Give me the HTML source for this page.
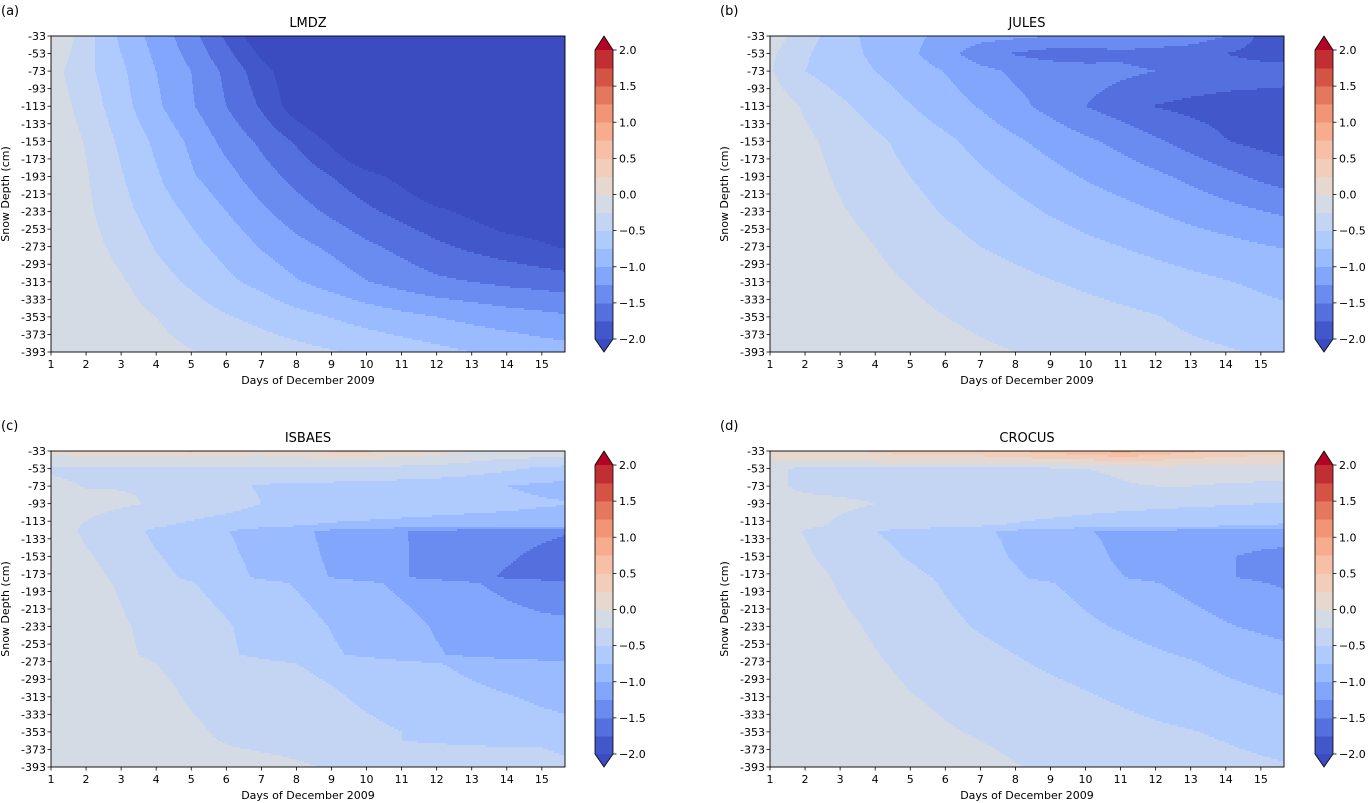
<!DOCTYPE html>
<html><head><meta charset="utf-8">
<style>
html,body{margin:0;padding:0;background:#fff;}
svg{display:block;font-family:"DejaVu Sans","Liberation Sans",sans-serif;}
</style></head>
<body>
<svg id="fig" width="1370" height="803" viewBox="0 0 1370 803" xmlns="http://www.w3.org/2000/svg"></svg>
<script>
// ---- data ----
const depthsA = [-33,-53,-73,-113,-153,-193,-233,-273,-313,-353,-393];
const depthsB = [-33,-53,-73,-113,-153,-193,-233,-273,-313,-353,-393];
const depthsC = [-33,-43,-53,-73,-93,-118,-124,-153,-177,-183,-233,-265,-275,-313,-353,-363,-371,-393];
const depthsD = [-33,-43,-53,-73,-93,-118,-124,-153,-177,-183,-233,-273,-313,-353,-393];
const days = [1,2,3,4,5,6,7,8,9,10,11,12,13,14,15,16];
const yTickLabels = [-33,-53,-73,-93,-113,-133,-153,-173,-193,-213,-233,-253,-273,-293,-313,-333,-353,-373,-393];
const xTickLabels = [1,2,3,4,5,6,7,8,9,10,11,12,13,14,15];
const cbTicks = [2.0,1.5,1.0,0.5,0.0,-0.5,-1.0,-1.5,-2.0];
const levels = [-2,-1.75,-1.5,-1.25,-1,-0.75,-0.5,-0.25,0,0.25,0.5,0.75,1,1.25,1.5,1.75,2];
const binColors = ["#4257c9","#5470de","#6a8bef","#82a6fb","#9abbff","#afcafc","#c4d5f3","#d5dbe5","#e6d7cf","#f1cdba","#f6bfa6","#f7ac8e","#f19576","#e4785e","#d35445","#c12f32"];
const underColor = "#3b4cc0", overColor = "#b40426";

const lmdz = [
[0.05,-0.4,-0.8,-1.1,-1.4,-1.8,-2.2,-2.4,-2.4,-2.4,-2.4,-2.4,-2.4,-2.4,-2.4,-2.4],
[-0.05,-0.42,-0.75,-1.05,-1.33,-1.68,-2.05,-2.3,-2.4,-2.4,-2.4,-2.4,-2.4,-2.4,-2.4,-2.4],
[-0.15,-0.43,-0.7,-1.0,-1.25,-1.56,-1.9,-2.2,-2.4,-2.4,-2.4,-2.4,-2.4,-2.4,-2.4,-2.4],
[-0.1,-0.35,-0.65,-0.95,-1.22,-1.5,-1.78,-2.15,-2.4,-2.4,-2.4,-2.4,-2.4,-2.4,-2.4,-2.4],
[-0.05,-0.27,-0.55,-0.8,-1.05,-1.33,-1.55,-1.78,-2.05,-2.4,-2.4,-2.4,-2.4,-2.4,-2.4,-2.4],
[-0.03,-0.23,-0.48,-0.72,-0.97,-1.16,-1.39,-1.58,-1.75,-1.92,-2.07,-2.3,-2.3,-2.3,-2.3,-2.3],
[0,-0.2,-0.42,-0.62,-0.8,-1.0,-1.2,-1.39,-1.55,-1.7,-1.83,-1.95,-2.06,-2.2,-2.2,-2.2],
[0,-0.15,-0.33,-0.52,-0.68,-0.83,-1.02,-1.17,-1.3,-1.45,-1.57,-1.7,-1.8,-1.88,-1.97,-2.05],
[0,-0.1,-0.22,-0.4,-0.54,-0.7,-0.82,-0.98,-1.1,-1.24,-1.35,-1.45,-1.5,-1.56,-1.6,-1.65],
[0,-0.05,-0.15,-0.25,-0.37,-0.48,-0.57,-0.67,-0.76,-0.85,-0.93,-1.0,-1.07,-1.13,-1.18,-1.23],
[0,-0.03,-0.1,-0.17,-0.24,-0.3,-0.36,-0.42,-0.48,-0.55,-0.61,-0.68,-0.75,-0.81,-0.87,-0.92]];

const jules = [
[-0.1,-0.4,-0.63,-0.85,-0.95,-1.05,-1.15,-1.2,-1.25,-1.25,-1.3,-1.3,-1.35,-1.5,-1.8,-1.9],
[-0.2,-0.47,-0.65,-0.8,-0.95,-1.15,-1.4,-1.52,-1.6,-1.62,-1.55,-1.6,-1.65,-1.75,-1.85,-1.9],
[-0.23,-0.5,-0.63,-0.75,-0.88,-1.01,-1.17,-1.3,-1.36,-1.4,-1.45,-1.5,-1.55,-1.6,-1.62,-1.64],
[-0.1,-0.28,-0.45,-0.6,-0.74,-0.88,-1.02,-1.18,-1.33,-1.5,-1.63,-1.76,-1.82,-1.86,-1.88,-1.9],
[-0.05,-0.2,-0.33,-0.45,-0.58,-0.7,-0.83,-0.96,-1.08,-1.2,-1.32,-1.46,-1.6,-1.74,-1.82,-1.88],
[-0.03,-0.17,-0.28,-0.39,-0.5,-0.6,-0.71,-0.81,-0.92,-1.02,-1.11,-1.2,-1.31,-1.43,-1.55,-1.65],
[-0.02,-0.13,-0.23,-0.32,-0.42,-0.52,-0.6,-0.68,-0.77,-0.85,-0.92,-1.0,-1.08,-1.16,-1.24,-1.31],
[-0.01,-0.08,-0.17,-0.25,-0.33,-0.42,-0.5,-0.56,-0.62,-0.69,-0.75,-0.81,-0.87,-0.92,-0.98,-1.03],
[0,-0.06,-0.13,-0.2,-0.26,-0.32,-0.38,-0.44,-0.49,-0.54,-0.59,-0.64,-0.69,-0.74,-0.79,-0.84],
[0,-0.04,-0.09,-0.15,-0.2,-0.25,-0.29,-0.33,-0.37,-0.41,-0.45,-0.49,-0.55,-0.6,-0.66,-0.71],
[0,-0.02,-0.06,-0.1,-0.14,-0.18,-0.22,-0.25,-0.29,-0.33,-0.37,-0.41,-0.45,-0.48,-0.52,-0.56]];

const isbaes = [
[0.05,0.1,0.15,0.2,0.3,0.15,0.1,0.15,0.3,0.3,0.2,0.1,0.0,-0.05,-0.1,-0.15],
[-0.1,-0.05,-0.1,-0.05,-0.1,-0.1,-0.08,-0.05,-0.05,-0.05,-0.08,-0.12,-0.2,-0.28,-0.3,-0.32],
[-0.28,-0.3,-0.3,-0.3,-0.3,-0.3,-0.3,-0.3,-0.3,-0.3,-0.32,-0.35,-0.4,-0.45,-0.55,-0.6],
[-0.2,-0.26,-0.26,-0.27,-0.3,-0.45,-0.52,-0.55,-0.56,-0.58,-0.6,-0.62,-0.65,-0.75,-0.8,-0.82],
[-0.15,-0.18,-0.22,-0.27,-0.33,-0.4,-0.5,-0.55,-0.58,-0.6,-0.62,-0.64,-0.66,-0.68,-0.72,-0.75],
[-0.15,-0.27,-0.37,-0.47,-0.55,-0.62,-0.68,-0.74,-0.78,-0.8,-0.82,-0.84,-0.86,-0.88,-0.9,-0.9],
[-0.1,-0.3,-0.4,-0.55,-0.65,-0.74,-0.85,-0.95,-1.05,-1.15,-1.24,-1.3,-1.35,-1.4,-1.45,-1.5],
[-0.05,-0.22,-0.35,-0.48,-0.6,-0.7,-0.82,-0.93,-1.03,-1.13,-1.23,-1.32,-1.4,-1.47,-1.55,-1.6],
[-0.03,-0.17,-0.3,-0.43,-0.54,-0.66,-0.79,-0.9,-1.01,-1.12,-1.23,-1.33,-1.44,-1.53,-1.6,-1.65],
[-0.04,-0.17,-0.28,-0.39,-0.49,-0.58,-0.68,-0.77,-0.86,-0.96,-1.05,-1.14,-1.23,-1.32,-1.4,-1.45],
[-0.03,-0.12,-0.22,-0.32,-0.4,-0.48,-0.58,-0.66,-0.76,-0.84,-0.92,-1.02,-1.08,-1.14,-1.18,-1.2],
[-0.02,-0.1,-0.2,-0.3,-0.38,-0.47,-0.55,-0.63,-0.72,-0.8,-0.89,-0.98,-1.06,-1.13,-1.2,-1.27],
[-0.02,-0.08,-0.16,-0.25,-0.31,-0.37,-0.44,-0.5,-0.56,-0.62,-0.68,-0.74,-0.8,-0.85,-0.88,-0.9],
[0,-0.05,-0.12,-0.2,-0.27,-0.31,-0.36,-0.41,-0.47,-0.54,-0.6,-0.65,-0.7,-0.74,-0.78,-0.8],
[0,-0.04,-0.1,-0.16,-0.22,-0.28,-0.32,-0.36,-0.4,-0.45,-0.5,-0.55,-0.59,-0.63,-0.68,-0.72],
[0,-0.04,-0.09,-0.15,-0.21,-0.26,-0.3,-0.35,-0.4,-0.45,-0.5,-0.55,-0.6,-0.65,-0.7,-0.73],
[0,-0.03,-0.08,-0.13,-0.18,-0.24,-0.27,-0.3,-0.33,-0.36,-0.39,-0.42,-0.45,-0.48,-0.5,-0.52],
[0,-0.02,-0.05,-0.08,-0.11,-0.14,-0.18,-0.22,-0.27,-0.31,-0.35,-0.38,-0.41,-0.44,-0.47,-0.49]];

const crocus = [
[0.05,0.1,0.15,0.3,0.35,0.38,0.4,0.5,0.6,0.7,0.85,0.7,0.55,0.45,0.4,0.35],
[0.02,0.05,0.08,0.1,0.12,0.12,0.12,0.15,0.2,0.25,0.3,0.28,0.2,0.15,0.1,0.1],
[-0.2,-0.3,-0.3,-0.3,-0.3,-0.3,-0.3,-0.3,-0.28,-0.25,-0.2,-0.1,-0.1,-0.1,-0.1,-0.1],
[-0.2,-0.3,-0.3,-0.3,-0.3,-0.32,-0.35,-0.38,-0.4,-0.35,-0.28,-0.25,-0.25,-0.28,-0.3,-0.3],
[-0.15,-0.18,-0.22,-0.25,-0.3,-0.33,-0.35,-0.37,-0.38,-0.4,-0.42,-0.44,-0.46,-0.48,-0.5,-0.5],
[-0.12,-0.2,-0.28,-0.33,-0.38,-0.43,-0.48,-0.52,-0.56,-0.6,-0.64,-0.67,-0.7,-0.73,-0.76,-0.78],
[-0.15,-0.26,-0.38,-0.5,-0.57,-0.64,-0.72,-0.79,-0.86,-0.99,-1.04,-1.05,-1.07,-1.08,-1.1,-1.1],
[-0.08,-0.22,-0.33,-0.43,-0.52,-0.6,-0.68,-0.77,-0.86,-0.94,-1.03,-1.1,-1.17,-1.23,-1.3,-1.35],
[-0.04,-0.17,-0.28,-0.37,-0.45,-0.53,-0.62,-0.72,-0.82,-0.91,-0.99,-1.08,-1.16,-1.23,-1.3,-1.33],
[-0.04,-0.16,-0.27,-0.36,-0.44,-0.52,-0.6,-0.67,-0.74,-0.82,-0.91,-0.99,-1.07,-1.15,-1.24,-1.3],
[-0.02,-0.1,-0.2,-0.28,-0.36,-0.45,-0.52,-0.58,-0.64,-0.71,-0.77,-0.84,-0.91,-0.98,-1.04,-1.1],
[0,-0.07,-0.15,-0.23,-0.3,-0.36,-0.42,-0.48,-0.54,-0.59,-0.64,-0.69,-0.74,-0.8,-0.85,-0.9],
[0,-0.05,-0.11,-0.18,-0.24,-0.29,-0.34,-0.39,-0.43,-0.48,-0.53,-0.58,-0.63,-0.68,-0.72,-0.76],
[0,-0.03,-0.08,-0.13,-0.18,-0.23,-0.27,-0.31,-0.35,-0.39,-0.42,-0.46,-0.49,-0.53,-0.58,-0.62],
[0,-0.02,-0.05,-0.08,-0.12,-0.15,-0.19,-0.24,-0.28,-0.31,-0.34,-0.37,-0.4,-0.43,-0.46,-0.49]];

// ---- rendering ----
const NS = "http://www.w3.org/2000/svg";
const svg = document.getElementById("fig");
function mk(tag, attrs, parent){ const e=document.createElementNS(NS,tag); for(const k in attrs) e.setAttribute(k,attrs[k]); (parent||svg).appendChild(e); return e; }

const panels = [
 {key:"lmdz", data:lmdz, dep:depthsA, title:"LMDZ", letter:"(a)", x0:51, y0:36, cbx:595},
 {key:"jules", data:jules, dep:depthsB, title:"JULES", letter:"(b)", x0:770, y0:36, cbx:1315},
 {key:"isbaes", data:isbaes, dep:depthsC, title:"ISBAES", letter:"(c)", x0:51, y0:451, cbx:595},
 {key:"crocus", data:crocus, dep:depthsD, title:"CROCUS", letter:"(d)", x0:770, y0:451, cbx:1315}
];
const PW = 514, PH = 316;
const DAY_MAX = 15.66;

function interp(grid, dps, day, depth){
  let i=0; while(i<dps.length-2 && depth < dps[i+1]) i++;
  const fy = Math.max(0,Math.min(1,(dps[i]-depth)/(dps[i]-dps[i+1])));
  let j=Math.floor(day-days[0]); if(j<0)j=0; if(j>days.length-2) j=days.length-2;
  const fx = Math.max(0,Math.min(1,(day-days[j])/(days[j+1]-days[j])));
  const a=grid[i][j], b=grid[i][j+1], c=grid[i+1][j], d=grid[i+1][j+1];
  return (a*(1-fx)+b*fx)*(1-fy)+(c*(1-fx)+d*fx)*fy;
}
function colorOf(v){
  if(v < levels[0]) return underColor;
  if(v >= levels[levels.length-1]) return overColor;
  let k=Math.floor((v-levels[0])/0.25); if(k>15)k=15; return binColors[k];
}

panels.forEach(p=>{
  const g = mk("g",{});
  
  
  const xs = d => p.x0 + (d-1)/(DAY_MAX-1)*PW;
  const ys = dep => p.y0 + (-33-dep)/360*PH;
  const ds = x => 1 + (x-p.x0)/PW*(DAY_MAX-1);
  const dp = y => -33 - (y-p.y0)/PH*360;
  const cg = mk("g",{"shape-rendering":"crispEdges"},g);
  
  
  const step=2;
  for(let y=0;y<PH;y+=step){
    const dep = dp(p.y0+y+step/2);
    let runStart=0, runCol=null;
    for(let x=0;x<=PW;x++){
      const col = x<PW ? colorOf(interp(p.data, p.dep, ds(p.x0+x+0.5), dep)) : null;
      if(col!==runCol){
        if(runCol!==null){
          const r = mk("rect",{x:p.x0+runStart,y:p.y0+y,width:x-runStart,height:Math.min(step,PH-y)+0.3,fill:runCol},cg);
          
          
        }
        runStart=x; runCol=col;
      }
    }
  }
  const fr = mk("rect",{x:p.x0,y:p.y0,width:PW,height:PH,fill:"none",stroke:"#000","stroke-width":0.9},g);
  
  
  yTickLabels.forEach(v=>{
    const y = ys(v);
    mk("line",{x1:p.x0-3.5,x2:p.x0,y1:y,y2:y,stroke:"#000","stroke-width":0.8},g);
    const t = mk("text",{x:p.x0-5,y:y+4,"text-anchor":"end","font-size":11,fill:"#000"},g);
    t.textContent = v;
    
    
  });
  xTickLabels.forEach(v=>{
    const x = xs(v);
    mk("line",{x1:x,x2:x,y1:p.y0+PH,y2:p.y0+PH+3.5,stroke:"#000","stroke-width":0.8},g);
    const t = mk("text",{x:x,y:p.y0+PH+16,"text-anchor":"middle","font-size":11,fill:"#000"},g);
    t.textContent = v;
    
    
  });
  const xt = mk("text",{x:p.x0+PW/2,y:p.y0+PH+32,"text-anchor":"middle","font-size":11},g);
  xt.textContent = "Days of December 2009";
  
  
  const yt = mk("text",{x:0,y:0,"text-anchor":"middle","font-size":11,transform:`translate(${p.x0-42},${p.y0+PH/2}) rotate(-90)`},g);
  yt.textContent = "Snow Depth (cm)";
  
  
  const tt = mk("text",{x:p.x0+PW/2,y:p.y0-9,"text-anchor":"middle","font-size":13},g);
  tt.textContent = p.title;
  
  
  const lt = mk("text",{x:p.x0-50,y:p.y0-21,"font-size":13},g);
  lt.textContent = p.letter;
  
  
  const cb = mk("g",{},g);
  
  
  const cbTop = p.y0+14, cbH = 289, cbW = 18, cx = p.cbx;
  const cy = v => cbTop + (2 - v)/4*cbH;
  for(let k=0;k<binColors.length;k++){
    const r = mk("rect",{x:cx,y:cy(levels[k+1]),width:cbW,height:cy(levels[k])-cy(levels[k+1])+0.4,fill:binColors[k],"shape-rendering":"crispEdges"},cb);
    
    
  }
  const up = mk("polygon",{points:`${cx},${cbTop} ${cx+cbW/2},${p.y0} ${cx+cbW},${cbTop}`,fill:overColor},cb);
  
  
  const dn = mk("polygon",{points:`${cx},${cbTop+cbH} ${cx+cbW/2},${p.y0+PH} ${cx+cbW},${cbTop+cbH}`,fill:underColor},cb);
  
  
  mk("polygon",{points:`${cx},${cbTop} ${cx+cbW/2},${p.y0} ${cx+cbW},${cbTop} ${cx+cbW},${cbTop+cbH} ${cx+cbW/2},${p.y0+PH} ${cx},${cbTop+cbH}`,fill:"none",stroke:"#000","stroke-width":0.8},cb);
  cbTicks.forEach(v=>{
    const y=cy(v);
    mk("line",{x1:cx+cbW,x2:cx+cbW+3.5,y1:y,y2:y,stroke:"#000","stroke-width":0.8},cb);
    const t = mk("text",{x:cx+cbW+6,y:y+4,"font-size":11},cb);
    t.textContent = (v<0?"\u2212":"")+Math.abs(v).toFixed(1);
    
    
  });
});
</script>
</body></html>
